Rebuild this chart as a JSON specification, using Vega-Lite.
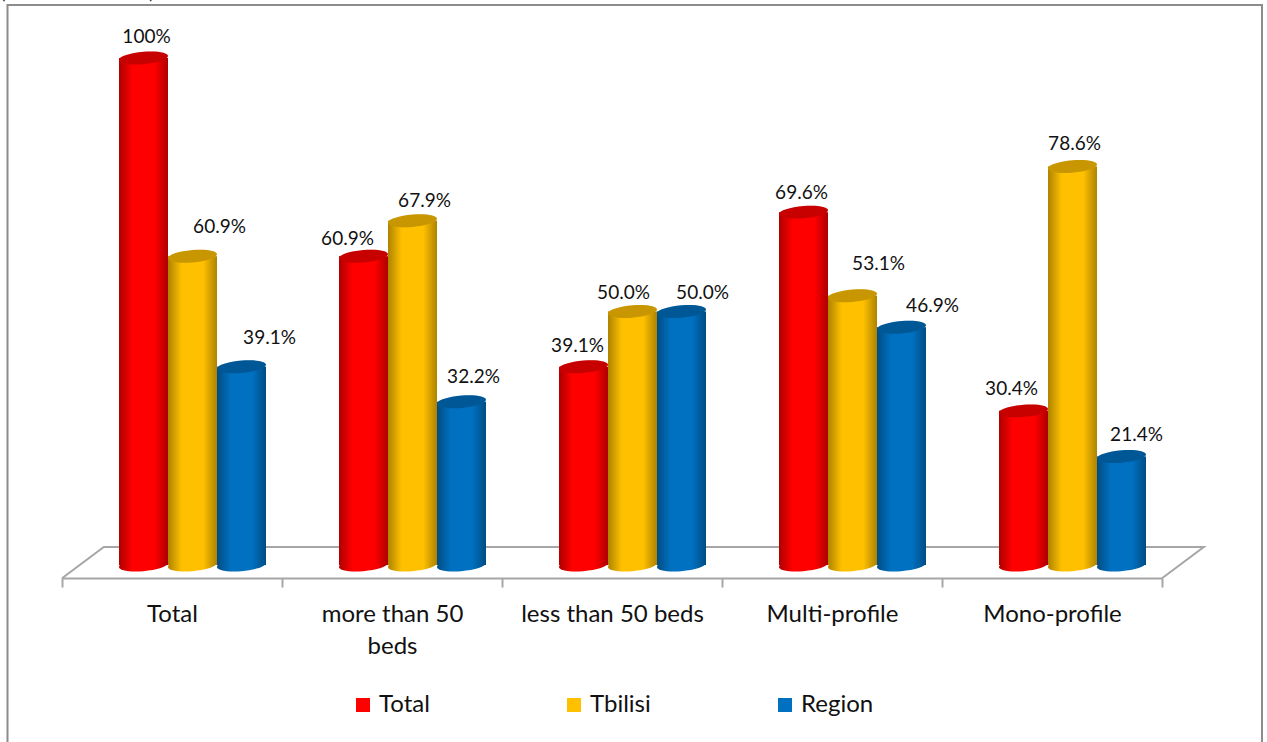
{
"$schema":"https://vega.github.io/schema/vega-lite/v6.json",
"width":1267,"height":742,"padding":0,"autosize":{"type":"none"},"background":"white",
"config":{"view":{"stroke":null},"axis":{"grid":false}},
"data":{"values":[
{"cat":"Total","series":"Total","value":100,"label":"100%"},
{"cat":"Total","series":"Tbilisi","value":60.9,"label":"60.9%"},
{"cat":"Total","series":"Region","value":39.1,"label":"39.1%"},
{"cat":"more than 50 beds","series":"Total","value":60.9,"label":"60.9%"},
{"cat":"more than 50 beds","series":"Tbilisi","value":67.9,"label":"67.9%"},
{"cat":"more than 50 beds","series":"Region","value":32.2,"label":"32.2%"},
{"cat":"less than 50 beds","series":"Total","value":39.1,"label":"39.1%"},
{"cat":"less than 50 beds","series":"Tbilisi","value":50.0,"label":"50.0%"},
{"cat":"less than 50 beds","series":"Region","value":50.0,"label":"50.0%"},
{"cat":"Multi-profile","series":"Total","value":69.6,"label":"69.6%"},
{"cat":"Multi-profile","series":"Tbilisi","value":53.1,"label":"53.1%"},
{"cat":"Multi-profile","series":"Region","value":46.9,"label":"46.9%"},
{"cat":"Mono-profile","series":"Total","value":30.4,"label":"30.4%"},
{"cat":"Mono-profile","series":"Tbilisi","value":78.6,"label":"78.6%"},
{"cat":"Mono-profile","series":"Region","value":21.4,"label":"21.4%"}
]},
"resolve":{"scale":{"x":"independent","y":"independent"}},
"layer":[
{"data":{"values":[{"fx":0,"fy":0,"o":1},{"fx":0,"fy":1,"o":2},{"fx":1,"fy":1,"o":3},{"fx":1,"fy":0,"o":4}]},
 "mark":{"type":"line","color":"#8c8c8c","strokeWidth":2,"clip":false},
 "encoding":{"x":{"field":"fx","type":"quantitative","axis":null,"scale":{"domain":[0,1],"range":[7.5,1262]}},
 "y":{"field":"fy","type":"quantitative","axis":null,"scale":{"domain":[0,1],"range":[742,5]}},
 "order":{"field":"o"}}},
{"data":{"values":[{"fx":-0.0036,"fy":1.015,"t":"("},{"fx":0.115,"fy":1.015,"t":")"}]},
 "mark":{"type":"text","font":"Lato","fontSize":18,"color":"#222222","baseline":"middle"},
 "encoding":{"x":{"field":"fx","type":"quantitative","axis":null,"scale":{"domain":[0,1],"range":[7.5,1262]}},
 "y":{"field":"fy","type":"quantitative","axis":null,"scale":{"domain":[0,1],"range":[742,5]}},
 "text":{"field":"t"}}},
{"data":{"values":[{"fx":0,"fv":-2.6,"o":1},{"fx":0.19,"fv":3.55,"o":2},{"fx":5.19,"fv":3.55,"o":3},{"fx":5,"fv":-2.6,"o":4}]},
 "mark":{"type":"line","color":"#a6a6a6","strokeWidth":2},
 "encoding":{"x":{"field":"fx","type":"quantitative","axis":null,"scale":{"domain":[0,5],"range":[62,1162]}},
 "y":{"field":"fv","type":"quantitative","axis":null,"scale":{"domain":[0,100],"range":[565,58]}},
 "order":{"field":"o"}}},
{"mark":{"type":"point","opacity":0,"size":1},
 "encoding":{"x":{"field":"cat","type":"nominal","sort":null,
 "scale":{"domain":["Total","more than 50 beds","less than 50 beds","Multi-profile","Mono-profile"],"range":[62,1162],"paddingInner":0,"paddingOuter":0},
 "axis":{"title":null,"offset":-164,"orient":"bottom","labelAngle":0,"domainColor":"#a6a6a6","domainWidth":2,"tickColor":"#a6a6a6","tickWidth":2,"tickSize":9,"tickBand":"extent","labelFont":"Lato","labelFontSize":24,"labelColor":"#111111","labelPadding":15,"labelLineHeight":32,"labelLimit":300,
 "labelExpr":"datum.label == 'more than 50 beds' ? ['more than 50','beds'] : datum.label"}}}},
{"encoding":{
 "x":{"field":"cat","type":"nominal","axis":null,"scale":{"domain":["Total","more than 50 beds","less than 50 beds","Multi-profile","Mono-profile"],"range":[82,1182],"paddingInner":0,"paddingOuter":0}},
 "xOffset":{"field":"series","type":"nominal","scale":{"domain":["Total","Tbilisi","Region"],"range":[37,184]}},
 "y":{"field":"value","type":"quantitative","axis":null,"stack":null,"scale":{"domain":[0,100],"range":[565,58]}}},
 "layer":[
 {"mark":{"type":"point","filled":true,"opacity":1,"size":2401,"shape":"M -1 0.08 A 1 0.25 -5 1 1 1 -0.08 A 1 0.25 -5 1 1 -1 0.08 Z"},
  "encoding":{"y":{"datum":0,"type":"quantitative","axis":null,"scale":{"domain":[0,100],"range":[565,58]}},
  "color":{"field":"series","type":"nominal","scale":{"domain":["Total","Tbilisi","Region"],"range":["#FF0000","#FFC000","#0070C0"]},
  "legend":{"title":null,"orient":"none","legendX":351,"legendY":693,"direction":"horizontal","columns":3,"symbolType":"square","symbolSize":196,"symbolStrokeWidth":0,"symbolOpacity":1,"labelFont":"Lato","labelFontSize":24,"labelColor":"#111111","labelOffset":4,"columnPadding":110,"gridAlign":"all"}}}},
 {"mark":{"type":"point","filled":true,"opacity":1,"size":2401,"shape":"M -1 0.08 A 1 0.25 -5 1 1 1 -0.08 A 1 0.25 -5 1 1 -1 0.08 Z","color":{"x1":0,"x2":1,"y1":0,"y2":0,"gradient":"linear","stops":[{"offset":0,"color":"rgba(0,0,0,0.32)"},{"offset":0.28,"color":"rgba(0,0,0,0)"},{"offset":0.72,"color":"rgba(0,0,0,0)"},{"offset":1,"color":"rgba(0,0,0,0.32)"}]}},
  "encoding":{"y":{"datum":0,"type":"quantitative","axis":null,"scale":{"domain":[0,100],"range":[565,58]}}}},
 {"mark":{"type":"bar"},"encoding":{"color":{"field":"series","type":"nominal"}}},
 {"mark":{"type":"bar","color":{"x1":0,"x2":1,"y1":0,"y2":0,"gradient":"linear","stops":[{"offset":0,"color":"rgba(0,0,0,0.32)"},{"offset":0.28,"color":"rgba(0,0,0,0)"},{"offset":0.72,"color":"rgba(0,0,0,0)"},{"offset":1,"color":"rgba(0,0,0,0.32)"}]}}},
 {"mark":{"type":"point","filled":true,"opacity":1,"size":2401,"shape":"M -1 0.08 A 1 0.25 -5 1 1 1 -0.08 A 1 0.25 -5 1 1 -1 0.08 Z"},"encoding":{"color":{"field":"series","type":"nominal"}}},
 {"mark":{"type":"point","filled":true,"color":"#000000","opacity":0.22,"size":2401,"shape":"M -1 0.08 A 1 0.25 -5 1 1 1 -0.08 A 1 0.25 -5 1 1 -1 0.08 Z"}},
 {"transform":[{"filter":"datum.cat=='Total'&&datum.series=='Total'"}],"mark":{"type":"text","font":"Lato","fontSize":19,"color":"#111111","dx":3,"dy":-21},"encoding":{"text":{"field":"label"}}},
 {"transform":[{"filter":"datum.cat=='Total'&&datum.series=='Tbilisi'"}],"mark":{"type":"text","font":"Lato","fontSize":19,"color":"#111111","dx":27,"dy":-29},"encoding":{"text":{"field":"label"}}},
 {"transform":[{"filter":"datum.cat=='Total'&&datum.series=='Region'"}],"mark":{"type":"text","font":"Lato","fontSize":19,"color":"#111111","dx":28,"dy":-29},"encoding":{"text":{"field":"label"}}},
 {"transform":[{"filter":"datum.cat=='more than 50 beds'&&datum.series=='Total'"}],"mark":{"type":"text","font":"Lato","fontSize":19,"color":"#111111","dx":-16,"dy":-17},"encoding":{"text":{"field":"label"}}},
 {"transform":[{"filter":"datum.cat=='more than 50 beds'&&datum.series=='Tbilisi'"}],"mark":{"type":"text","font":"Lato","fontSize":19,"color":"#111111","dx":12,"dy":-20},"encoding":{"text":{"field":"label"}}},
 {"transform":[{"filter":"datum.cat=='more than 50 beds'&&datum.series=='Region'"}],"mark":{"type":"text","font":"Lato","fontSize":19,"color":"#111111","dx":12,"dy":-25},"encoding":{"text":{"field":"label"}}},
 {"transform":[{"filter":"datum.cat=='less than 50 beds'&&datum.series=='Total'"}],"mark":{"type":"text","font":"Lato","fontSize":19,"color":"#111111","dx":-6,"dy":-21},"encoding":{"text":{"field":"label"}}},
 {"transform":[{"filter":"datum.cat=='less than 50 beds'&&datum.series=='Tbilisi'"}],"mark":{"type":"text","font":"Lato","fontSize":19,"color":"#111111","dx":-9,"dy":-19},"encoding":{"text":{"field":"label"}}},
 {"transform":[{"filter":"datum.cat=='less than 50 beds'&&datum.series=='Region'"}],"mark":{"type":"text","font":"Lato","fontSize":19,"color":"#111111","dx":21,"dy":-19},"encoding":{"text":{"field":"label"}}},
 {"transform":[{"filter":"datum.cat=='Multi-profile'&&datum.series=='Total'"}],"mark":{"type":"text","font":"Lato","fontSize":19,"color":"#111111","dx":-2,"dy":-19},"encoding":{"text":{"field":"label"}}},
 {"transform":[{"filter":"datum.cat=='Multi-profile'&&datum.series=='Tbilisi'"}],"mark":{"type":"text","font":"Lato","fontSize":19,"color":"#111111","dx":26,"dy":-32},"encoding":{"text":{"field":"label"}}},
 {"transform":[{"filter":"datum.cat=='Multi-profile'&&datum.series=='Region'"}],"mark":{"type":"text","font":"Lato","fontSize":19,"color":"#111111","dx":31,"dy":-21},"encoding":{"text":{"field":"label"}}},
 {"transform":[{"filter":"datum.cat=='Mono-profile'&&datum.series=='Total'"}],"mark":{"type":"text","font":"Lato","fontSize":19,"color":"#111111","dx":-12,"dy":-22},"encoding":{"text":{"field":"label"}}},
 {"transform":[{"filter":"datum.cat=='Mono-profile'&&datum.series=='Tbilisi'"}],"mark":{"type":"text","font":"Lato","fontSize":19,"color":"#111111","dx":2,"dy":-22},"encoding":{"text":{"field":"label"}}},
 {"transform":[{"filter":"datum.cat=='Mono-profile'&&datum.series=='Region'"}],"mark":{"type":"text","font":"Lato","fontSize":19,"color":"#111111","dx":15,"dy":-22},"encoding":{"text":{"field":"label"}}}
 ]}
]
}
